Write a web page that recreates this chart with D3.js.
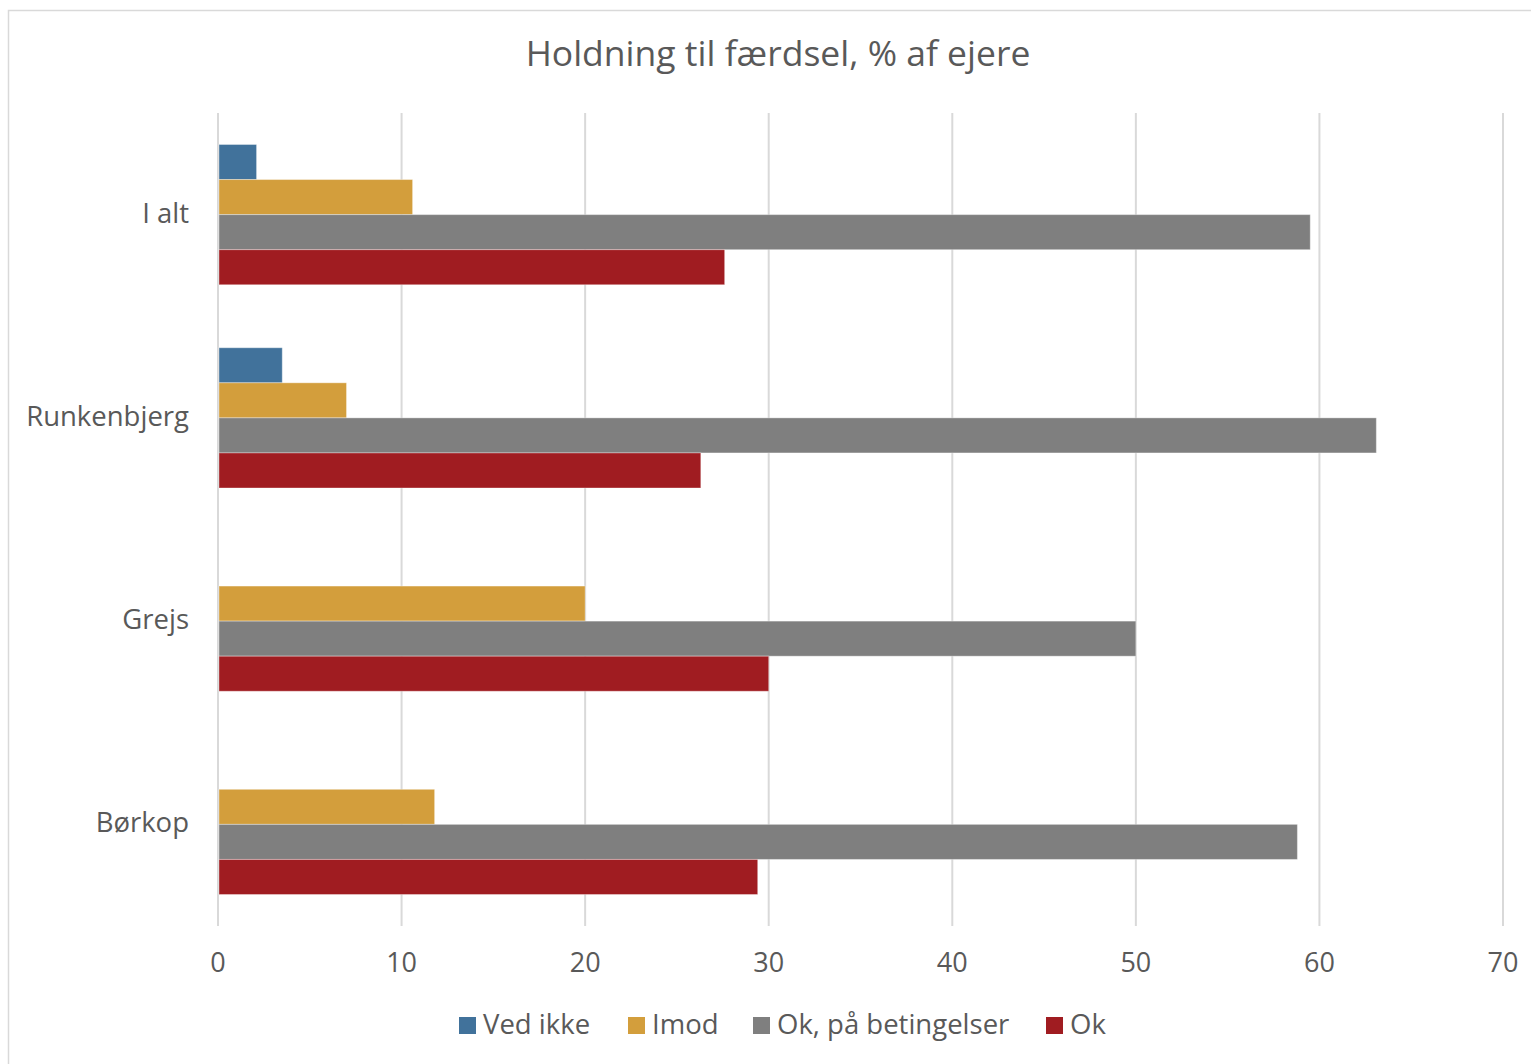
<!DOCTYPE html>
<meta charset="utf-8">
<script src="https://d3js.org/d3.v7.min.js"></script>
<style>
    body { margin: 0; background: #fff; }
    text { font-family: "Open Sans", "Noto Sans", sans-serif; fill: #595959; }
</style>
<svg id="vis"></svg>
<script>
    // Data
    let categories = ['I alt', 'Runkenbjerg', 'Grejs', 'Børkop']
    let series = ['Ved ikke', 'Imod', 'Ok, på betingelser', 'Ok']
    let vedIkke = [2.1, 3.5, 0, 0]
    let imod = [10.6, 7.0, 20.0, 11.8]
    let okBetingelser = [59.5, 63.1, 50.0, 58.8]
    let ok = [27.6, 26.3, 30.0, 29.4]
    let xTicks = [0, 10, 20, 30, 40, 50, 60, 70]
    let colors = ['#41729b', '#d39e3c', '#7f7f7f', '#a01c21']

    let values = [vedIkke, imod, okBetingelser, ok]

    let W = 1531, H = 1064
    let margin = {top: 113, left: 218}

    let svg = d3.select('#vis').attr('width', W).attr('height', H)

    // chart border
    svg.append('rect')
        .attr('x', 8.5).attr('y', 10.5)
        .attr('width', W).attr('height', H)
        .attr('fill', 'none').attr('stroke', '#d9d9d9').attr('stroke-width', 1.5)

    svg.append('text')
        .attr('x', 778).attr('y', 66)
        .attr('text-anchor', 'middle')
        .style('font-size', '35.5px')
        .text('Holdning til færdsel, % af ejere')

    let g = svg.append('g')
        .attr('transform', 'translate(' + margin.left + ',' + margin.top + ')')

    let x = d3.scaleLinear().domain([0, 70]).range([0, 1285])

    let y = d3.scaleBand().domain(categories).range([0, 813]).paddingInner(0.31).paddingOuter(0.155)
    let y1 = d3.scaleBand().domain(series).range([0, y.bandwidth()])

    // gridlines
    g.append('g')
        .selectAll('line')
        .data(xTicks)
        .enter()
        .append('line')
        .attr('x1', d => x(d)).attr('x2', d => x(d))
        .attr('y1', 0).attr('y2', 813)
        .attr('stroke', '#d9d9d9').attr('stroke-width', 2)

    // bars
    categories.forEach(function (c, i) {
        series.forEach(function (s, j) {
            let v = values[j][i]
            if (!v) return
            g.append('rect')
                .attr('x', x(0) + 1)
                .attr('y', y(c) + y1(s))
                .attr('width', x(v) - x(0) - 1)
                .attr('height', y1.bandwidth())
                .attr('fill', colors[j])
                .attr('stroke', '#ffffff').attr('stroke-opacity', 0.35).attr('stroke-width', 1)
        })
    })

    // x tick labels
    g.append('g')
        .selectAll('text')
        .data(xTicks)
        .enter()
        .append('text')
        .attr('x', d => x(d))
        .attr('y', 859)
        .attr('text-anchor', 'middle')
        .style('font-size', '27px')
        .text(d => d)

    // category labels
    g.append('g')
        .selectAll('text')
        .data(categories)
        .enter()
        .append('text')
        .attr('x', -29)
        .attr('y', d => y(d) + y.bandwidth() / 2 + 8)
        .attr('text-anchor', 'end')
        .style('font-size', '27.5px')
        .text(d => d)

    // legend
    let legendX = [459, 628, 753, 1046]
    let legend = svg.append('g')
    series.forEach(function (s, j) {
        legend.append('rect')
            .attr('x', legendX[j]).attr('y', 1017)
            .attr('width', 17).attr('height', 17)
            .attr('fill', colors[j])
        legend.append('text')
            .attr('x', legendX[j] + 24).attr('y', 1034)
            .style('font-size', '27.5px')
            .text(s)
    })
</script>
